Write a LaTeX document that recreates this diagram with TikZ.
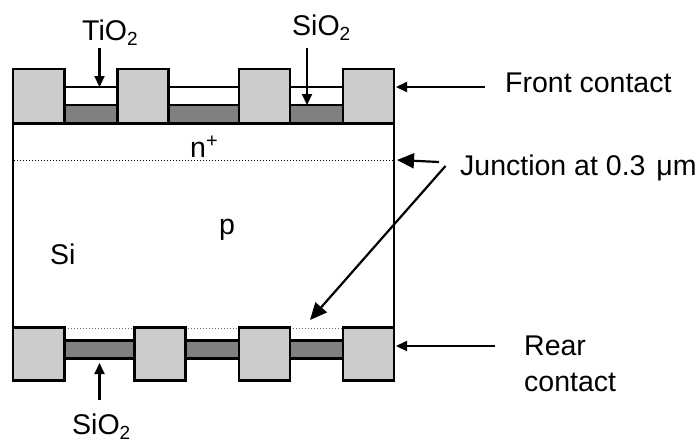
\documentclass[tikz,border=0pt]{standalone}
\usepackage{fontspec}
\setmainfont{Liberation Sans}
\usetikzlibrary{arrows.meta}
\newcommand{\subtwo}{\raisebox{-5pt}{\fontsize{19}{20}\selectfont 2}}
\tikzset{
  layer/.style={draw=black,line width=2.2pt,inner sep=0pt,outer sep=0pt,anchor=north west},
  contact/.style={layer,fill=black!20,minimum width=51pt},
  oxide/.style={layer,fill=black!50},
  tio/.style={layer,fill=white,minimum height=18pt},
  lbl/.style={inner sep=0pt,anchor=base west,font=\fontsize{28.5}{30}\selectfont},
  ptr/.style={line width=2.2pt,-{Triangle[length=11pt,width=10pt]}},
  bigptr/.style={line width=2.2pt,-{Triangle[length=17pt,width=15pt]}},
  junction/.style={dotted,line width=1pt}
}
\begin{document}
\begin{tikzpicture}[x=1pt,y=-1pt]
\useasboundingbox (0,0) rectangle (700,442);
% body: top edge and two sides, closed below by the rear contacts
\coordinate (bl) at (13,327.5); \coordinate (tl) at (13,123.5);
\coordinate (tr) at (394,123.5); \coordinate (br) at (394,327.5);
\draw[line width=2.2pt] (bl) -- (tl) -- (tr) -- (br);
% junctions
\coordinate (ja) at (14,160.5); \coordinate (jb) at (393,160.5);
\draw[junction] (ja) -- (jb);
\coordinate (jc) at (14,328); \coordinate (jd) at (393,328);
\draw[junction,black!60] (jc) -- (jd);
% front layers
\node[tio,minimum width=53pt] (t1) at (64.5,87) {};
\node[tio,minimum width=70.5pt] (t2) at (168.5,87) {};
\node[tio,minimum width=53pt] (t3) at (290,87) {};
\node[oxide,minimum width=53pt,minimum height=18.5pt] (f1) at (64.5,105) {};
\node[oxide,minimum width=70.5pt,minimum height=18.5pt] (f2) at (168.5,105) {};
\node[oxide,minimum width=53pt,minimum height=18.5pt] (f3) at (290,105) {};
\node[contact,minimum width=51.5pt,minimum height=54.5pt] (c1) at (13,69) {};
\node[contact,minimum height=54.5pt] (c2) at (117.5,69) {};
\node[contact,minimum height=54.5pt] (c3) at (239,69) {};
\node[contact,minimum height=54.5pt] (c4) at (343,69) {};
% rear layers
\node[oxide,minimum width=70pt,minimum height=18pt] (r1) at (64.5,340.4) {};
\node[oxide,minimum width=53.5pt,minimum height=18pt] (r2) at (185.5,340.4) {};
\node[oxide,minimum width=53pt,minimum height=18pt] (r3) at (290,340.4) {};
\node[contact,minimum width=51.5pt,minimum height=53pt] (d1) at (13,327.5) {};
\node[contact,minimum height=53pt] (d2) at (134.5,327.5) {};
\node[contact,minimum height=53pt] (d3) at (239,327.5) {};
\node[contact,minimum height=53pt] (d4) at (343,327.5) {};
% labels
\node[lbl] (tio2) at (82,40) {TiO\subtwo};
\node[lbl] (sio2a) at (292,35) {SiO\subtwo};
\node[lbl] (nplus) at (190,157) {n\textsuperscript{+}};
\node[lbl] (p) at (219,234) {p};
\node[lbl] (si) at (50,264) {Si};
\node[lbl] (front) at (505,92) {Front contact};
\node[lbl] (junc) at (460,175) {Junction at 0.3 \hspace{3pt}μm};
\node[lbl] (rear) at (524,355) {Rear};
\node[lbl] (contact) at (524,391) {contact};
\node[lbl] (sio2b) at (72,434) {SiO\subtwo};
% connectors
\coordinate (a1s) at (99.5,48); \coordinate (a1e) at (99.5,87);
\draw[ptr] (a1s) -- (a1e);
\coordinate (a2s) at (307,48); \coordinate (a2e) at (307,105);
\draw[ptr] (a2s) -- (a2e);
\coordinate (a3s) at (99.5,400); \coordinate (a3e) at (99.5,363);
\draw[ptr] (a3s) -- (a3e);
\coordinate (a4s) at (485,87); \coordinate (a4e) at (396,87);
\draw[ptr] (a4s) -- (a4e);
\coordinate (a5s) at (439,162); \coordinate (a5e) at (397,160);
\draw[bigptr] (a5s) -- (a5e);
\coordinate (a6s) at (445.5,166); \coordinate (a6e) at (310,320);
\draw[bigptr] (a6s) -- (a6e);
\coordinate (a7s) at (495,346); \coordinate (a7e) at (396,346);
\draw[ptr] (a7s) -- (a7e);
\end{tikzpicture}
\end{document}
